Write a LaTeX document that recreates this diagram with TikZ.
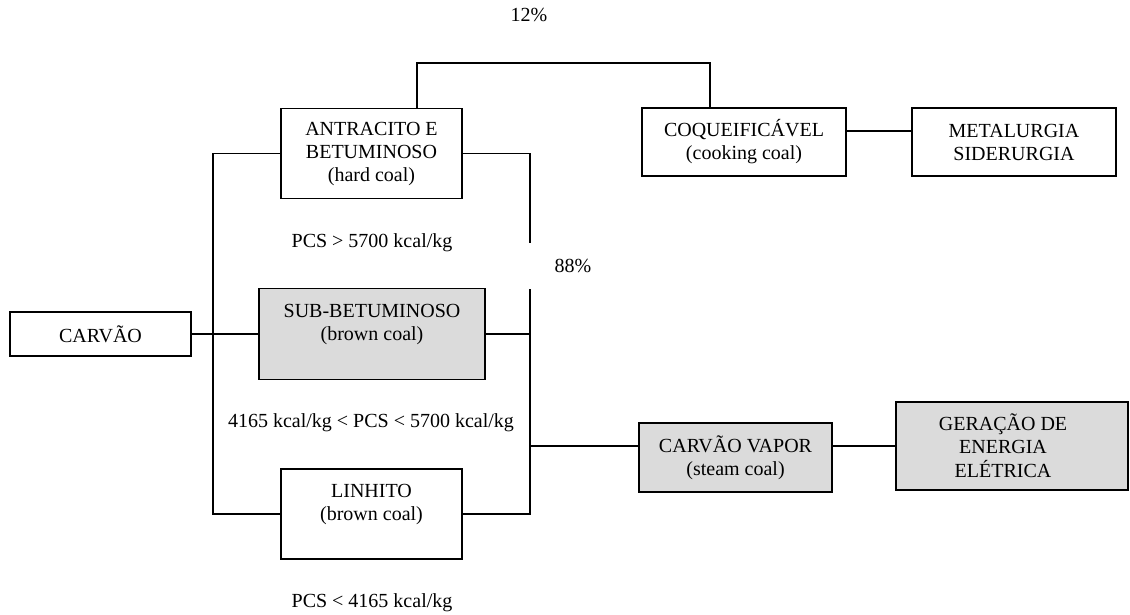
\documentclass[tikz,border=0pt]{standalone}
\usepackage{fontspec}
\setmainfont{Liberation Serif}
\usepackage{tikz}
\definecolor{light-gray}{rgb}{0.86,0.86,0.86}
\usetikzlibrary{positioning}

\begin{document}
\begin{tikzpicture}[x=0.6pt,y=-0.6pt,line width=1.1pt]
    \tikzstyle{every node}=[font=\fontsize{12}{13.8}\selectfont,align=center,inner sep=0pt]
    \tikzstyle{box}=[draw,rectangle,fill=white]
    \tikzstyle{graybox}=[draw,rectangle,fill=light-gray]

    \useasboundingbox (0,0) rectangle (1130,614);

    \node[box,minimum width=108.6pt,minimum height=26.4pt] (carvao) at (100.5,334) {CARVÃO};
    \node[box,minimum width=108.6pt,minimum height=54pt] (antra) at (371.5,153.5) {ANTRACITO E\\BETUMINOSO\\(hard coal)};
    \node[graybox,minimum width=135.6pt,minimum height=54.6pt] (sub) at (372,334) {SUB-BETUMINOSO\\(brown coal)\\ \mbox{}};
    \node[box,minimum width=108.6pt,minimum height=54pt] (linhito) at (371.5,514) {LINHITO\\(brown coal)\\ \mbox{}};
    \node[box,minimum width=122.4pt,minimum height=40.8pt] (coque) at (744,142) {COQUEIFICÁVEL\\(cooking coal)};
    \node[box,minimum width=122.4pt,minimum height=40.8pt] (metal) at (1014,142) {METALURGIA\\SIDERURGIA};
    \node[graybox,minimum width=115.8pt,minimum height=41.4pt] (vapor) at (735.5,457.5) {CARVÃO VAPOR\\(steam coal)};
    \node[graybox,minimum width=139.2pt,minimum height=52.8pt] (gera) at (1012,446) {\raisebox{-2pt}[\height][\depth]{\begin{tabular}{@{}c@{}}GERAÇÃO DE\\ENERGIA\\ELÉTRICA\end{tabular}}\hspace*{10.8pt}};

    % barramentos
    \coordinate (lt) at (213,153.5);
    \coordinate (lb) at (213,514);
    \coordinate (rt) at (530,153.5);
    \coordinate (rb) at (530,514);
    \coordinate (vin) at (530,446);
    \coordinate (top1) at (417,63);
    \coordinate (top2) at (710,63);

    \draw (carvao.east) -- (sub.west);
    \draw (antra.west) -- (lt) -- (lb) -- (linhito.west);
    \draw (antra.east) -- (rt) -- (rb) -- (linhito.east);
    \draw (sub.east) -- (sub.east -| rt);
    \draw (vin) -- (vin -| vapor.west);
    \draw (vapor.east |- vin) -- (gera.west);
    \draw (top1 |- antra.north) -- (top1) -- (top2) -- (top2 |- coque.north);
    \draw ([yshift=6.6pt]coque.east) -- ([yshift=6.6pt]metal.west);

    % rotulos
    \node[fill=white,minimum width=54pt,minimum height=27.6pt] (p88) at (573,266) {88\%};
    \node (p12) at (529,15) {12\%};
    \node (pcs1) at (372,243) {PCS > 5700 kcal/kg};
    \node (pcs2) at (371,423) {4165 kcal/kg < PCS < 5700 kcal/kg};
    \node (pcs3) at (372,603) {PCS < 4165 kcal/kg};
\end{tikzpicture}
\end{document}
